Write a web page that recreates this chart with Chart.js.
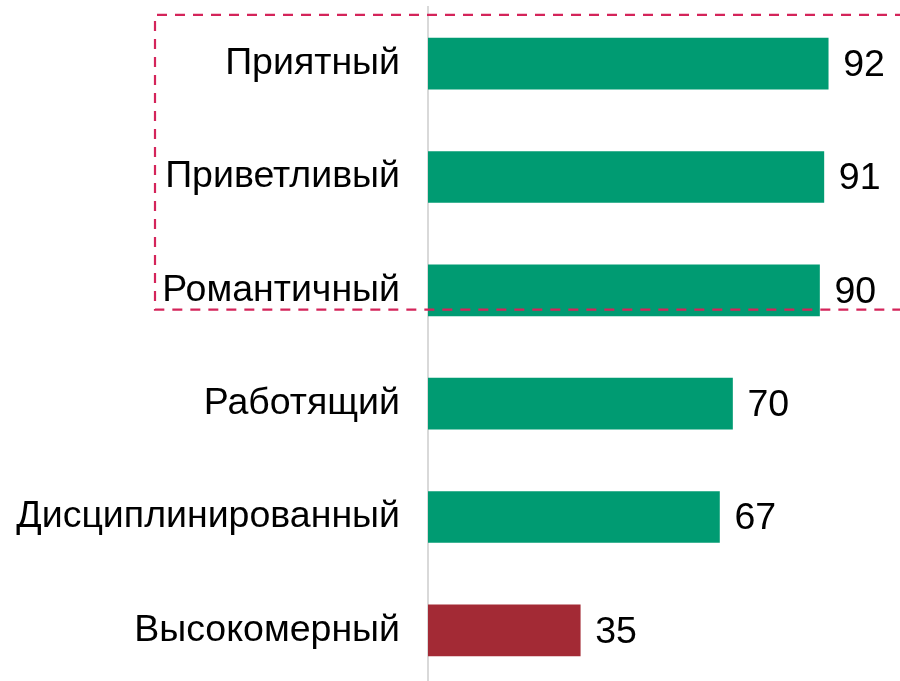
<!DOCTYPE html>
<html>
<head>
<meta charset="utf-8">
<script src="https://cdn.jsdelivr.net/npm/chart.js@4"></script>
<style>
html,body{margin:0;padding:0;background:#fff;overflow:hidden;}
#wrap{position:relative;width:900px;height:687px;}
</style>
</head>
<body>
<div id="wrap"><canvas id="c"></canvas></div>
<script>
const categories = ["Приятный","Приветливый","Романтичный","Работящий","Дисциплинированный","Высокомерный"];
const values = [92, 91, 90, 70, 67, 35];
const barColors = ["#009B72","#009B72","#009B72","#009B72","#009B72","#A32A35"];
const highlightedCount = 3;

const FONT = "'Liberation Sans', Arial, sans-serif";

const valueLabels = {
  id: 'valueLabels',
  afterDatasetsDraw(chart) {
    const ctx = chart.ctx;
    const meta = chart.getDatasetMeta(0);
    ctx.save();
    ctx.font = "37.5px " + FONT;
    ctx.fillStyle = "#000";
    ctx.textAlign = "left";
    ctx.textBaseline = "middle";
    meta.data.forEach((bar, i) => {
      ctx.fillText(String(values[i]), bar.x + 15, bar.y + 2);
    });
    ctx.restore();
  }
};

const highlightBox = {
  id: 'highlightBox',
  afterDraw(chart) {
    const ctx = chart.ctx;
    const y = chart.scales.y;
    const step = y.getPixelForValue(1) - y.getPixelForValue(0);
    const top = y.getPixelForValue(0) - step * 0.43;
    const bottom = y.getPixelForValue(highlightedCount - 1) + step * 0.17;
    const left = 155;
    ctx.save();
    ctx.strokeStyle = "#D4245A";
    ctx.lineWidth = 2.2;
    ctx.setLineDash([10, 8]);
    ctx.beginPath();
    ctx.moveTo(chart.width + 5, top);
    ctx.lineTo(left, top);
    ctx.lineTo(left, bottom);
    ctx.lineTo(chart.width + 5, bottom);
    ctx.stroke();
    ctx.restore();
  }
};

new Chart(document.getElementById('c'), {
  type: 'bar',
  data: {
    labels: categories,
    datasets: [{
      data: values,
      backgroundColor: barColors,
      borderWidth: 0,
      barThickness: 51
    }]
  },
  options: {
    indexAxis: 'y',
    responsive: true,
    maintainAspectRatio: false,
    animation: false,
    layout: { padding: { top: 7, right: 37, bottom: 0, left: 0 } },
    plugins: { legend: { display: false }, tooltip: { enabled: false } },
    scales: {
      x: {
        display: false,
        min: 0,
        max: 100
      },
      y: {
        afterFit(scale) {
          scale.width = 428;
          scale.paddingTop = 0;
          scale.paddingBottom = 0;
        },
        grid: { display: false, drawTicks: false },
        border: { display: true, color: "#D9D9D9", width: 2 },
        ticks: {
          color: "#000",
          padding: 28,
          font: { family: FONT, size: 37.5 }
        }
      }
    }
  },
  plugins: [valueLabels, highlightBox]
});
</script>
</body>
</html>
